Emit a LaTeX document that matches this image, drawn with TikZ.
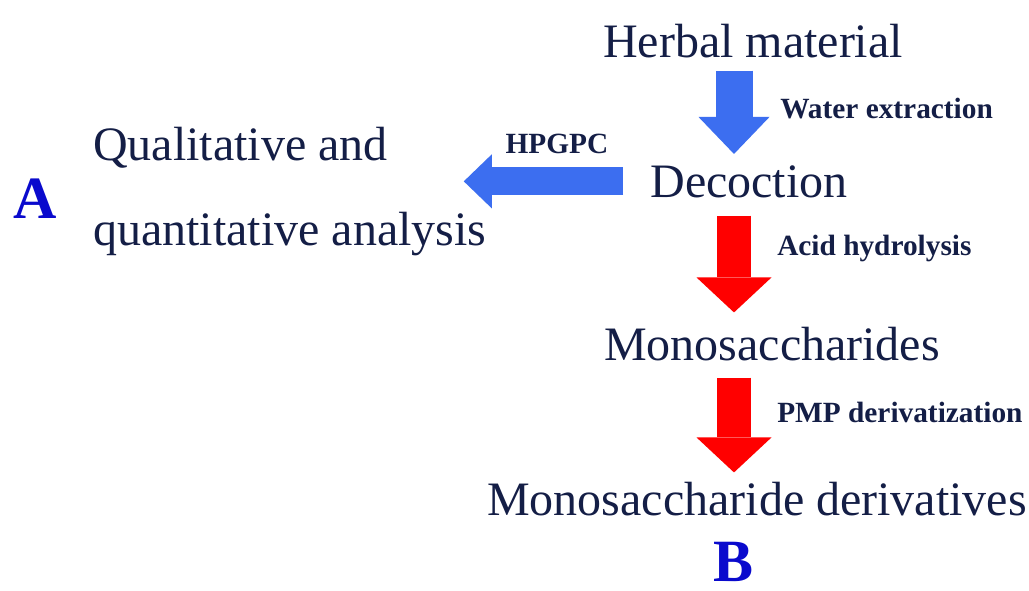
\documentclass[tikz,border=0pt]{standalone}
\usepackage{fontspec}
\setmainfont{Liberation Serif}
\usetikzlibrary{arrows.meta, positioning}
\definecolor{inknavy}{RGB}{20,30,70}
\definecolor{flowblue}{RGB}{60,110,240}
\definecolor{flowred}{RGB}{255,0,0}
\definecolor{letterblue}{RGB}{10,10,205}

\begin{document}
\begin{tikzpicture}[x=0.75pt, y=-0.75pt]
    % Styles
    \tikzstyle{stage} = [inner sep=0pt, anchor=base, text=inknavy, font=\fontsize{36}{43}\selectfont]
    \tikzstyle{method} = [inner sep=0pt, anchor=base west, text=inknavy, font=\fontsize{22}{26}\selectfont\bfseries]
    \tikzstyle{panel} = [inner sep=0pt, anchor=base, text=letterblue, font=\fontsize{45}{54}\selectfont\bfseries]
    \tikzstyle{downblue} = [flowblue, line width=27.75pt, -{Triangle[length=27.75pt, width=53.25pt, line width=0pt]}]
    \tikzstyle{leftblue} = [flowblue, line width=21pt, -{Triangle[length=21pt, width=40.5pt, line width=0pt]}]
    \tikzstyle{downred} = [flowred, line width=25.5pt, -{Triangle[length=26.25pt, width=56.25pt, line width=0pt]}]

    % Frame
    \useasboundingbox (0,0) rectangle (1029,590);
    \fill [white] (0,0) rectangle (1029,590);

    % Nodes
    \node (herbal) [stage] at (753,57) {Herbal material};
    \node (decoction) [stage] at (749,197) {Decoction};
    \node (mono) [stage] at (772,360) {Monosaccharides};
    \node (deriv) [stage] at (757,515) {Monosaccharide derivatives};
    \node (analysis) [stage, anchor=north west, align=left, font=\fontsize{36}{63.75}\selectfont] at (93,127) {Qualitative and\\quantitative analysis};
    \node (water) [method] at (780,118) {Water extraction};
    \node (hpgpc) [method, anchor=base] at (557,153) {HPGPC};
    \node (acid) [method] at (777,255) {Acid hydrolysis};
    \node (pmp) [method] at (777,422) {PMP derivatization};
    \node (panelA) [panel] at (35,218) {A};
    \node (panelB) [panel] at (734,581) {B};
    \coordinate (col) at (734,0);

    % Arrows
    \draw [downblue, shorten <=9.75pt, shorten >=8.25pt] (herbal.south -| col) -- (decoction.north -| col);
    \draw [leftblue, shorten <=20.25pt, shorten >=-17.25pt] (decoction.west) -- (decoction.west -| analysis.east);
    \draw [downred, shorten <=13.5pt, shorten >=10.5pt] (decoction.south -| col) -- (mono.north -| col);
    \draw [downred, shorten <=12.75pt, shorten >=6.75pt] (mono.south -| col) -- (deriv.north -| col);
\end{tikzpicture}
\end{document}
